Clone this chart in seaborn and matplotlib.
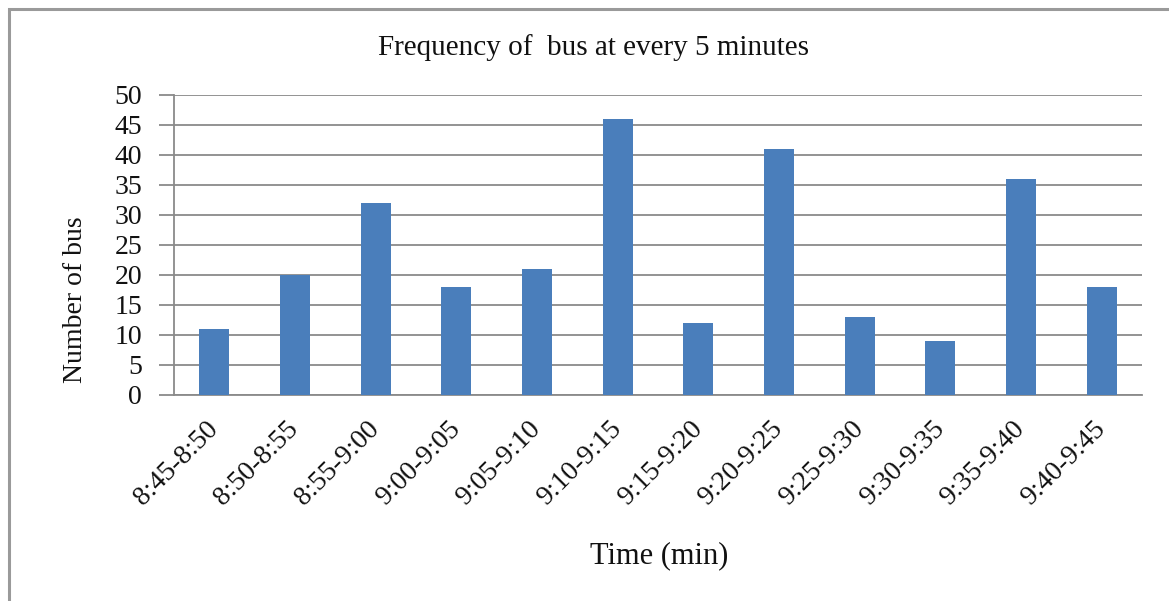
import matplotlib
matplotlib.use("Agg")
import matplotlib.pyplot as plt
from matplotlib.patches import Rectangle
import seaborn as sns
import pandas as pd

# Five-minute intervals and the number of buses counted in each
intervals = ["8:45-8:50", "8:50-8:55", "8:55-9:00", "9:00-9:05", "9:05-9:10",
             "9:10-9:15", "9:15-9:20", "9:20-9:25", "9:25-9:30", "9:30-9:35",
             "9:35-9:40", "9:40-9:45"]
bus_counts = [11, 20, 32, 18, 21, 46, 12, 41, 13, 9, 36, 18]
y_ticks = [0, 5, 10, 15, 20, 25, 30, 35, 40, 45, 50]

df = pd.DataFrame({"interval": intervals, "buses": bus_counts})

sns.set_theme(style="white")
plt.rcParams["font.family"] = ["Liberation Serif", "DejaVu Serif"]

W, H = 1169, 601
fig = plt.figure(figsize=(W / 100, H / 100), dpi=100)
fig.patch.set_facecolor("white")

left, right, top, bottom = 174, 1142, 95, 395
ax = fig.add_axes([left / W, 1 - bottom / H, (right - left) / W, (bottom - top) / H])

grid_col = "#8a8a8a"
sns.barplot(data=df, x="interval", y="buses", color="#4A7EBB", saturation=1,
            width=0.37, linewidth=0, ax=ax, zorder=3)

ax.set_ylim(0, 50)
ax.set_xlim(-0.5, len(intervals) - 0.5)
ax.set_yticks(y_ticks)
ax.set_yticklabels([str(v) for v in y_ticks])

# horizontal gridlines, with the y ticks extending them past the axis
ax.yaxis.grid(True, color=grid_col, linewidth=1.3, zorder=0)
ax.xaxis.grid(False)
ax.set_axisbelow(True)
ax.tick_params(axis="y", which="major", length=11, width=1.3, color=grid_col,
               pad=12, labelsize=20, labelcolor="#111111", left=True)
ax.tick_params(axis="x", which="major", length=0, pad=22, labelsize=20,
               labelcolor="#111111")
for lab in ax.get_xticklabels():
    lab.set_rotation(45)
    lab.set_ha("right")
    lab.set_va("center")
    lab.set_rotation_mode("anchor")

for side in ("top", "right"):
    ax.spines[side].set_visible(False)
for side in ("left", "bottom"):
    ax.spines[side].set_color(grid_col)
    ax.spines[side].set_linewidth(1.3)

ax.set_xlabel("Time (min)", fontsize=22, color="#111111")
ax.set_ylabel("Number of bus", fontsize=20, color="#111111")
ax.xaxis.label.set_va("center")
ax.yaxis.label.set_va("center")
ax.xaxis.set_label_coords(0.501, -(556 - bottom) / (bottom - top))
ax.yaxis.set_label_coords((75 - left) / (right - left), (bottom - 300) / (bottom - top))

fig.text(593 / W, 1 - 48 / H, "Frequency of  bus at every 5 minutes",
         ha="center", va="center", fontsize=21, color="#111111")

# chart frame
fig.patches.append(Rectangle((9 / W, -0.2), 1.2, 1.2 - 9 / H,
                             transform=fig.transFigure, fill=False,
                             edgecolor="#9a9a9a", linewidth=2.2))

fig.savefig("out.png", dpi=100, facecolor="white")
